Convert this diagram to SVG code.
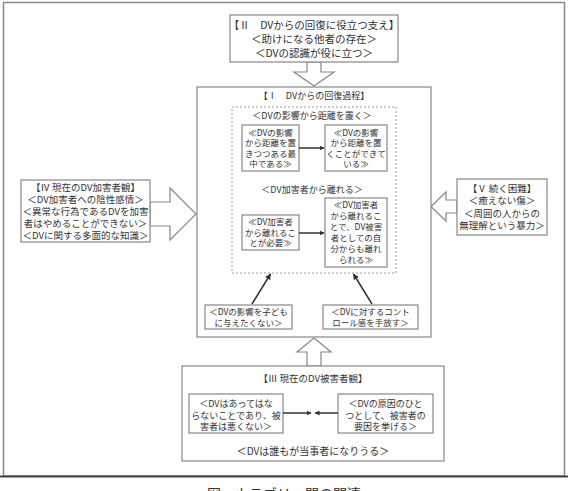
<svg xmlns="http://www.w3.org/2000/svg" width="568" height="491" viewBox="0 0 568 491">
<style>
text{font-family:"Noto Sans CJK JP","Noto Sans",sans-serif;fill:#333;text-anchor:middle}
.box{fill:#fff;stroke:#888;stroke-width:1.2}
.hollow{fill:#fff;stroke:#888;stroke-width:1.2}
.dot{fill:none;stroke:#999;stroke-width:1;stroke-dasharray:2,2}
.con{stroke:#333;stroke-width:1.5;fill:none}
.f11{font-size:10.5px}
.f10{font-size:10px}
.f95{font-size:9.5px}
.f9{font-size:9px}
.f85{font-size:8.5px}
</style>
<defs>
<marker id="ah" viewBox="0 0 10 10" refX="9" refY="5" markerWidth="5" markerHeight="5" orient="auto" markerUnits="userSpaceOnUse">
<path d="M0,0 L10,5 L0,10 z" fill="#333"/>
</marker>
<marker id="ahl" viewBox="0 0 10 10" refX="9" refY="5" markerWidth="6" markerHeight="6" orient="auto" markerUnits="userSpaceOnUse">
<path d="M0,0 L10,5 L0,10 z" fill="#333"/>
</marker>
</defs>
<rect x="0" y="0" width="568" height="491" fill="#fff"/>
<rect x="3.5" y="2.5" width="561" height="473.5" fill="none" stroke="#888" stroke-width="1.5"/>
<line x1="0" y1="476.5" x2="568" y2="476.5" stroke="#444" stroke-width="2"/>

<g id="hollow-arrows">
<polygon class="hollow" points="307,62 321,62 321,72 334,72 314,86 294,72 307,72"/>
<polygon class="hollow" points="307,366 321,366 321,352 331,352 314,338 297,352 307,352"/>
<polygon class="hollow" points="150,202 170,202 170,188 196,214 170,240 170,226 150,226"/>
<polygon class="hollow" points="457,200 446,200 446,192 431,206.5 446,221 446,213 457,213"/>
</g>

<g id="node-II">
<rect class="box" x="230" y="15" width="168" height="47"/>
<text class="f11" x="314" y="29">【Ⅱ　DVからの回復に役立つ支え】</text>
<text class="f11" x="314" y="43">＜助けになる他者の存在＞</text>
<text class="f11" x="314" y="57">＜DVの認識が役に立つ＞</text>
</g>

<g id="node-I">
<rect class="box" x="197" y="87" width="234" height="250"/>
<text class="f9" x="314" y="98.5">【Ⅰ　DVからの回復過程】</text>
<rect class="dot" x="232" y="107" width="164" height="166"/>
<text class="f9" x="312" y="118.5">＜DVの影響から距離を置く＞</text>
<text class="f9" x="312" y="192.5">＜DV加害者から離れる＞</text>
</g>

<g id="node-A">
<rect class="box" x="242" y="125" width="57" height="46"/>
<text class="f85" x="270.5" y="135.5">≪DVの影響</text>
<text class="f85" x="270.5" y="146">から距離を置</text>
<text class="f85" x="270.5" y="156.5">きつつある最</text>
<text class="f85" x="270.5" y="167">中である≫</text>
</g>
<g id="node-B">
<rect class="box" x="325" y="125" width="62" height="46"/>
<text class="f85" x="356" y="135.5">≪DVの影響</text>
<text class="f85" x="356" y="146">から距離を置</text>
<text class="f85" x="356" y="156.5">くことができて</text>
<text class="f85" x="356" y="167">いる≫</text>
</g>
<g id="node-C">
<rect class="box" x="242" y="215" width="57" height="35"/>
<text class="f85" x="270.5" y="225">≪DV加害者</text>
<text class="f85" x="270.5" y="235.5">から離れるこ</text>
<text class="f85" x="270.5" y="246">とが必要≫</text>
</g>
<g id="node-D">
<rect class="box" x="325" y="198" width="62" height="69"/>
<text class="f85" x="356" y="208">≪DV加害者</text>
<text class="f85" x="356" y="219">から離れるこ</text>
<text class="f85" x="356" y="230">とで、DV被害</text>
<text class="f85" x="356" y="241">者としての自</text>
<text class="f85" x="356" y="252">分からも離れ</text>
<text class="f85" x="356" y="263">られる≫</text>
</g>
<g id="node-E">
<rect class="box" x="205" y="305" width="87" height="24"/>
<text class="f85" x="248.5" y="315">＜DVの影響を子ども</text>
<text class="f85" x="248.5" y="326">に与えたくない＞</text>
</g>
<g id="node-F">
<rect class="box" x="323" y="305" width="95" height="24"/>
<text class="f85" x="370.5" y="315">＜DVに対するコント</text>
<text class="f85" x="370.5" y="326">ロール感を手放す＞</text>
</g>

<g id="node-IV">
<rect class="box" x="21" y="180" width="129" height="62"/>
<text class="f95" x="85.5" y="190.5">【Ⅳ 現在のDV加害者観】</text>
<text class="f95" x="85.5" y="202.5">＜DV加害者への陰性感情＞</text>
<text class="f95" x="85.5" y="214.5">＜異常な行為であるDVを加害</text>
<text class="f95" x="85.5" y="226.5">者はやめることができない＞</text>
<text class="f95" x="85.5" y="238.5">＜DVに関する多面的な知識＞</text>
</g>

<g id="node-V">
<rect class="box" x="457" y="179" width="90" height="56"/>
<text class="f95" x="502" y="191.5">【Ⅴ 続く困難】</text>
<text class="f95" x="502" y="204">＜癒えない傷＞</text>
<text class="f95" x="502" y="216.5">＜周囲の人からの</text>
<text class="f95" x="502" y="229">無理解という暴力＞</text>
</g>

<g id="node-III">
<rect class="box" x="182" y="366" width="262" height="95"/>
<text class="f95" x="313" y="381.5">【Ⅲ 現在のDV被害者観】</text>
<text class="f10" x="313" y="454.5">＜DVは誰もが当事者になりうる＞</text>
</g>
<g id="node-G">
<rect class="box" x="189" y="394" width="94" height="39"/>
<text class="f9" x="236" y="407">＜DVはあってはな</text>
<text class="f9" x="236" y="418.5">らないことであり、被</text>
<text class="f9" x="236" y="430">害者は悪くない＞</text>
</g>
<g id="node-H">
<rect class="box" x="338" y="394" width="95" height="39"/>
<text class="f9" x="385.5" y="407">＜DVの原因のひと</text>
<text class="f9" x="385.5" y="418.5">つとして、被害者の</text>
<text class="f9" x="385.5" y="430">要因を挙げる＞</text>
</g>

<g id="connectors">
<line class="con" x1="299" y1="148" x2="324" y2="148" marker-end="url(#ah)"/>
<line class="con" x1="299" y1="233" x2="324" y2="233" marker-end="url(#ah)"/>
<line class="con" x1="252" y1="304" x2="270.5" y2="274" marker-end="url(#ahl)"/>
<line class="con" x1="372" y1="304" x2="353.5" y2="274" marker-end="url(#ahl)"/>
<line class="con" x1="283" y1="413" x2="311" y2="413" marker-end="url(#ah)"/>
<line class="con" x1="338" y1="413" x2="315" y2="413" marker-end="url(#ah)"/>
</g>

<text x="284" y="499" style="font-size:14px">図　カテゴリー間の関連</text>
</svg>
